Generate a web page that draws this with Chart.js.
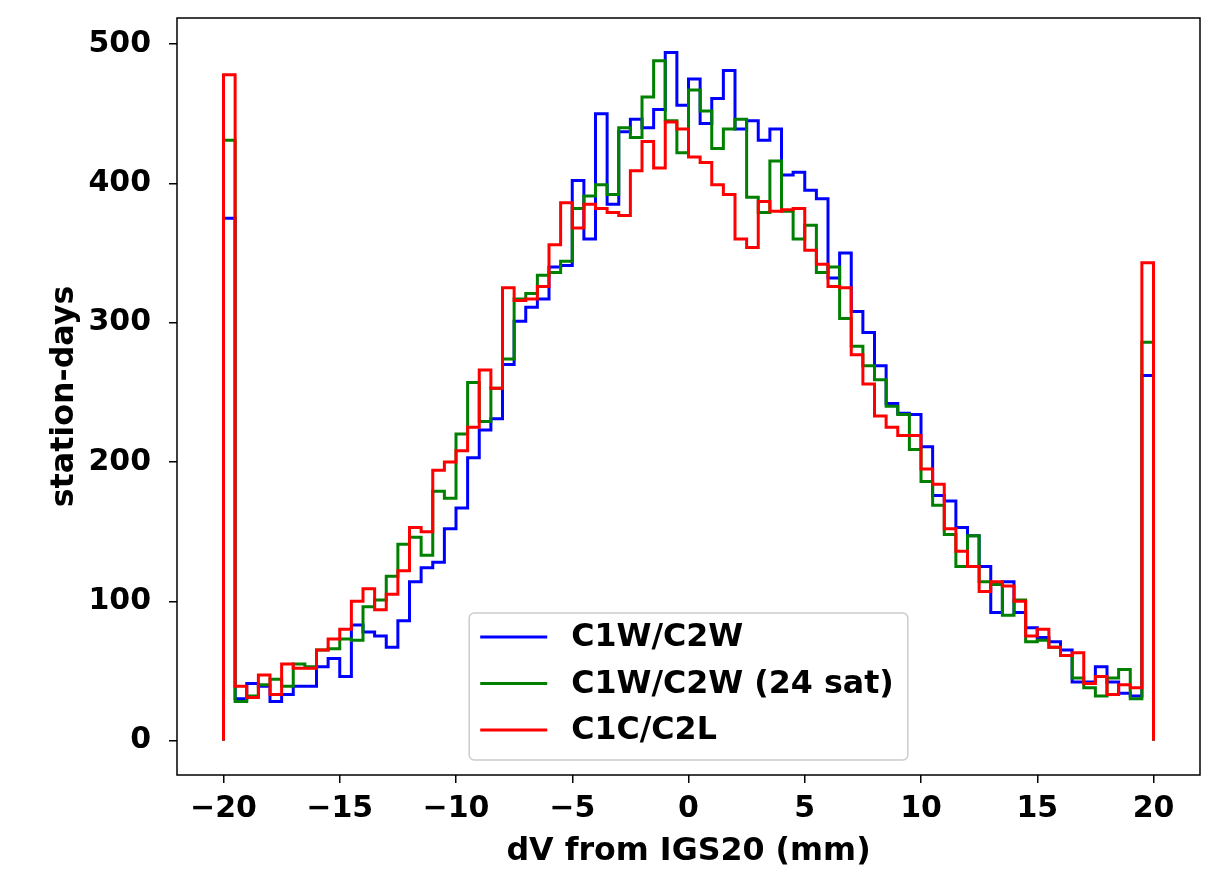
<!DOCTYPE html>
<html>
<head>
<meta charset="utf-8">
<title>dV histogram</title>
<script src="https://cdn.jsdelivr.net/npm/chart.js@4.4.1/dist/chart.umd.min.js"></script>
<style>
  html, body { margin: 0; padding: 0; background: #fff; overflow: hidden; }
  #wrap { width: 1215px; height: 873px; }
</style>
</head>
<body>
<div id="wrap"><canvas id="hist" width="1215" height="873"></canvas></div>
<script>
// histogram bins: -20 .. 20 mm, 0.5 mm wide (80 bins)
const binStart = -20;
const binWidth = 0.5;

const seriesLabels = ['C1W/C2W', 'C1W/C2W (24 sat)', 'C1C/C2L'];
const seriesColors = ['#0000ff', '#008000', '#ff0000'];

// station-days per bin
const blueCounts = [
  375, 30, 41, 39, 28, 33, 39, 39, 53, 59,
  46, 83, 78, 75, 67, 86, 114, 124, 128, 152,
  167, 203, 223, 231, 270, 301, 311, 317, 340, 341,
  402, 360, 450, 385, 437, 446, 440, 453, 494, 456,
  475, 443, 461, 481, 439, 445, 431, 439, 406, 408,
  395, 389, 332, 350, 308, 293, 269, 242, 235, 234,
  211, 176, 172, 153, 147, 125, 92, 114, 92, 81,
  74, 71, 65, 42, 42, 53, 42, 34, 32, 262
];
const greenCounts = [
  431, 28, 32, 40, 44, 39, 55, 53, 65, 66,
  73, 72, 96, 101, 118, 141, 146, 133, 179, 174,
  220, 257, 229, 253, 274, 317, 321, 334, 336, 344,
  382, 391, 399, 392, 440, 433, 462, 488, 445, 422,
  467, 452, 425, 439, 446, 390, 379, 416, 380, 360,
  370, 336, 340, 303, 283, 269, 259, 240, 234, 209,
  186, 169, 148, 125, 147, 114, 112, 90, 101, 71,
  72, 67, 61, 45, 38, 32, 45, 51, 30, 286
];
const redCounts = [
  478, 39, 31, 47, 33, 55, 52, 52, 65, 73,
  80, 100, 109, 94, 105, 122, 153, 150, 194, 200,
  208, 225, 266, 253, 325, 316, 317, 326, 356, 386,
  368, 385, 382, 379, 377, 409, 430, 411, 444, 439,
  419, 415, 399, 392, 360, 354, 387, 380, 381, 382,
  352, 342, 326, 325, 277, 256, 233, 225, 219, 219,
  195, 184, 152, 136, 125, 107, 114, 111, 100, 75,
  80, 67, 61, 63, 41, 46, 33, 40, 38, 343
];

const xTicks = [-20, -15, -10, -5, 0, 5, 10, 15, 20];
const yTicks = [0, 100, 200, 300, 400, 500];

const binEdges = [];
for (let i = 0; i <= blueCounts.length; i++) binEdges.push(binStart + i * binWidth);

// matplotlib-style "step" outline: up from 0, across every bin, back down to 0
function stepPoints(counts) {
  const n = counts.length;
  const pts = [{ x: binEdges[0], y: 0 }];
  counts.forEach((c, i) => pts.push({ x: binEdges[i], y: c }));
  pts.push({ x: binEdges[n], y: counts[n - 1] });
  pts.push({ x: binEdges[n], y: 0 });
  return pts;
}

const minus = (v) => String(v).replace('-', '\u2212');

const FAMILY = "'DejaVu Sans', sans-serif";
const TICK_FONT = { family: FAMILY, size: 30, weight: 'bold' };
const LABEL_FONT = { family: FAMILY, size: 31.7, weight: 'bold' };

// black frame round the plot area
const frame = {
  id: 'frame',
  afterDatasetsDraw(chart) {
    const { ctx, chartArea: a } = chart;
    ctx.save();
    ctx.strokeStyle = '#000';
    ctx.lineWidth = 1.5;
    ctx.strokeRect(a.left, a.top, a.right - a.left, a.bottom - a.top);
    ctx.restore();
  }
};

// legend box inside the plot, lower centre
const insideLegend = {
  id: 'insideLegend',
  afterDraw(chart) {
    const { ctx, chartArea: a } = chart;
    const sets = chart.data.datasets;
    ctx.save();
    ctx.font = `${LABEL_FONT.weight} ${LABEL_FONT.size}px ${LABEL_FONT.family}`;
    const textW = Math.max(...sets.map((d) => ctx.measureText(d.label).width));
    const padL = 11, lineLen = 67, gap = 24, padR = 14;
    const rowH = 46.5, padT = 24, padB = 30;
    const w = padL + lineLen + gap + textW + padR;
    const h = padT + rowH * (sets.length - 1) + padB;
    const x0 = (a.left + a.right) / 2 - w / 2;
    const y0 = a.bottom - 15 - h;

    ctx.beginPath();
    ctx.roundRect(x0, y0, w, h, 5);
    ctx.fillStyle = 'rgba(255,255,255,0.8)';
    ctx.fill();
    ctx.strokeStyle = '#cccccc';
    ctx.lineWidth = 1.5;
    ctx.stroke();

    ctx.textBaseline = 'middle';
    ctx.textAlign = 'left';
    sets.forEach((d, i) => {
      const cy = y0 + padT + i * rowH;
      ctx.beginPath();
      ctx.moveTo(x0 + padL, cy);
      ctx.lineTo(x0 + padL + lineLen, cy);
      ctx.strokeStyle = d.borderColor;
      ctx.lineWidth = 3;
      ctx.stroke();
      ctx.fillStyle = '#000';
      ctx.fillText(d.label, x0 + padL + lineLen + gap, cy + 1);
    });
    ctx.restore();
  }
};

Chart.defaults.font = TICK_FONT;
Chart.defaults.color = '#000';

const counts = [blueCounts, greenCounts, redCounts];

new Chart(document.getElementById('hist').getContext('2d'), {
  type: 'line',
  data: {
    datasets: counts.map((c, i) => ({
      label: seriesLabels[i],
      data: stepPoints(c),
      borderColor: seriesColors[i],
      backgroundColor: seriesColors[i],
      borderWidth: 3,
      pointRadius: 0,
      stepped: true,
      fill: false,
      order: counts.length - i // red drawn last, on top
    }))
  },
  options: {
    responsive: false,
    animation: false,
    devicePixelRatio: 1,
    layout: { padding: { left: 0, top: 18, right: 15, bottom: 0 } },
    plugins: { legend: { display: false }, tooltip: { enabled: false } },
    scales: {
      x: {
        type: 'linear',
        min: -22,
        max: 22,
        afterBuildTicks: (s) => { s.ticks = xTicks.map((v) => ({ value: v })); },
        afterFit: (s) => { s.height = 98; s.paddingLeft = 0; s.paddingRight = 0; },
        grid: { drawOnChartArea: false, drawTicks: true, tickLength: 8, color: '#000', lineWidth: 1.5 },
        border: { display: false },
        ticks: { padding: 8, maxRotation: 0, callback: (v) => minus(v) },
        title: { display: true, text: 'dV from IGS20 (mm)', font: LABEL_FONT, padding: { top: 0, bottom: 2 } }
      },
      y: {
        type: 'linear',
        min: -24.7,
        max: 518.7,
        afterBuildTicks: (s) => { s.ticks = yTicks.map((v) => ({ value: v })); },
        afterFit: (s) => { s.width = 177; s.paddingTop = 0; s.paddingBottom = 0; },
        grid: { drawOnChartArea: false, drawTicks: true, tickLength: 8, color: '#000', lineWidth: 1.5 },
        border: { display: false },
        ticks: { padding: 18, callback: (v) => minus(v) },
        title: { display: true, text: 'station-days', font: LABEL_FONT, padding: { top: 46, bottom: 0 } }
      }
    }
  },
  plugins: [frame, insideLegend]
});
</script>
</body>
</html>
